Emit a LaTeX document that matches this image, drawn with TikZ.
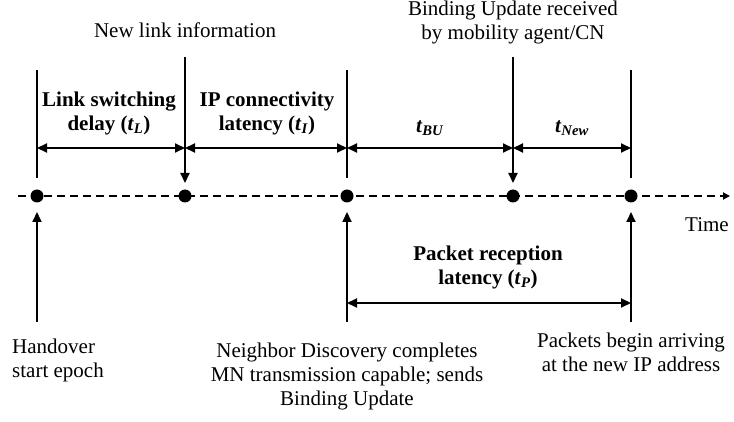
\documentclass[tikz,border=0pt]{standalone}
\usepackage{fontspec}
\setmainfont{Liberation Serif}
\usepackage{tikz}
\usetikzlibrary{arrows.meta}

% italic t with italic subscript
\newcommand{\tsub}[1]{\textit{t}\textsubscript{\textit{#1}}}

\tikzset{
  dot/.style={circle,fill=black,inner sep=0pt,minimum size=13pt},
  txt/.style={font=\fontsize{21}{24}\selectfont,align=center,inner sep=0pt},
  btxt/.style={txt,font=\fontsize{21}{24}\selectfont\bfseries},
  tick/.style={line width=2pt},
  span/.style={line width=2pt,{Triangle[length=10pt,width=9pt]}-{Triangle[length=10pt,width=9pt]}},
  mark arrow/.style={line width=2pt,-{Triangle[length=10pt,width=9pt]}},
  timeline/.style={line width=2pt,dash pattern=on 8pt off 5pt,-{Triangle[length=7pt,width=7pt]}}
}

\begin{document}
\begin{tikzpicture}[x=1pt,y=-1pt]
    \useasboundingbox (0,0) rectangle (734,422);
    % ------------------------------------------------------------------
    %                             TIME AXIS
    % ------------------------------------------------------------------
    \coordinate (axL) at (18,196);
    \coordinate (axR) at (730,196);
    \draw[timeline] (axL) -- (axR);

    % events on the axis
    \node[dot] (ho)  at (37,196)  {};
    \node[dot] (nl)  at (185,196) {};
    \node[dot] (nd)  at (347,196) {};
    \node[dot] (bu)  at (513,196) {};
    \node[dot] (pk)  at (631,196) {};

    % ------------------------------------------------------------------
    %                             MARKERS
    % ------------------------------------------------------------------
    % upper ticks
    \coordinate (hoT) at (37,70);   \coordinate (hoB) at (37,178);
    \coordinate (ndT) at (347,70);  \coordinate (ndB) at (347,178);
    \coordinate (pkT) at (631,70);  \coordinate (pkB) at (631,178);
    \draw[tick] (hoT) -- (hoB);
    \draw[tick] (ndT) -- (ndB);
    \draw[tick] (pkT) -- (pkB);

    % arrows coming down onto the axis
    \coordinate (nlT) at (185,57);  \coordinate (nlB) at (185,183);
    \coordinate (buT) at (513,57);  \coordinate (buB) at (513,183);
    \draw[mark arrow] (nlT) -- (nlB);
    \draw[mark arrow] (buT) -- (buB);

    % arrows coming up onto the axis
    \coordinate (hoU) at (37,322);  \coordinate (hoA) at (37,212);
    \coordinate (ndU) at (347,322); \coordinate (ndA) at (347,212);
    \coordinate (pkU) at (631,322); \coordinate (pkA) at (631,212);
    \draw[mark arrow] (hoU) -- (hoA);
    \draw[mark arrow] (ndU) -- (ndA);
    \draw[mark arrow] (pkU) -- (pkA);

    % ------------------------------------------------------------------
    %                             SPANS
    % ------------------------------------------------------------------
    \coordinate (s1) at (37,148);
    \coordinate (s2) at (185,148);
    \coordinate (s3) at (347,148);
    \coordinate (s4) at (513,148);
    \coordinate (s5) at (631,148);
    \draw[span] (s1) -- (s2);
    \draw[span] (s2) -- (s3);
    \draw[span] (s3) -- (s4);
    \draw[span] (s4) -- (s5);

    \coordinate (p1) at (347,303);
    \coordinate (p2) at (631,303);
    \draw[span] (p1) -- (p2);

    % ------------------------------------------------------------------
    %                             LABELS
    % ------------------------------------------------------------------
    \node[btxt] (lsd) at (109,113) {Link switching\\delay (\tsub{L})};
    \node[btxt] (ipc) at (267,113) {IP connectivity\\latency (\tsub{I})};
    \node[btxt] (tbu) at (430,128) {\tsub{BU}};
    \node[btxt] (tnw) at (572,128) {\tsub{New}};
    \node[btxt] (prl) at (488,267) {Packet reception\\latency (\tsub{P})};

    \node[txt] (nli) at (185,30)  {New link information};
    \node[txt] (bur) at (513,22)  {Binding Update received\\by mobility agent/CN};
    \node[txt] (tim) at (707,225) {Time};
    \node[txt,align=left,anchor=west] (hse) at (12,360) {Handover\\start epoch};
    \node[txt] (ndc) at (347,376) {Neighbor Discovery completes\\MN transmission capable; sends\\Binding Update};
    \node[txt] (pba) at (631,352) {Packets begin arriving\\at the new IP address};
\end{tikzpicture}
\end{document}
